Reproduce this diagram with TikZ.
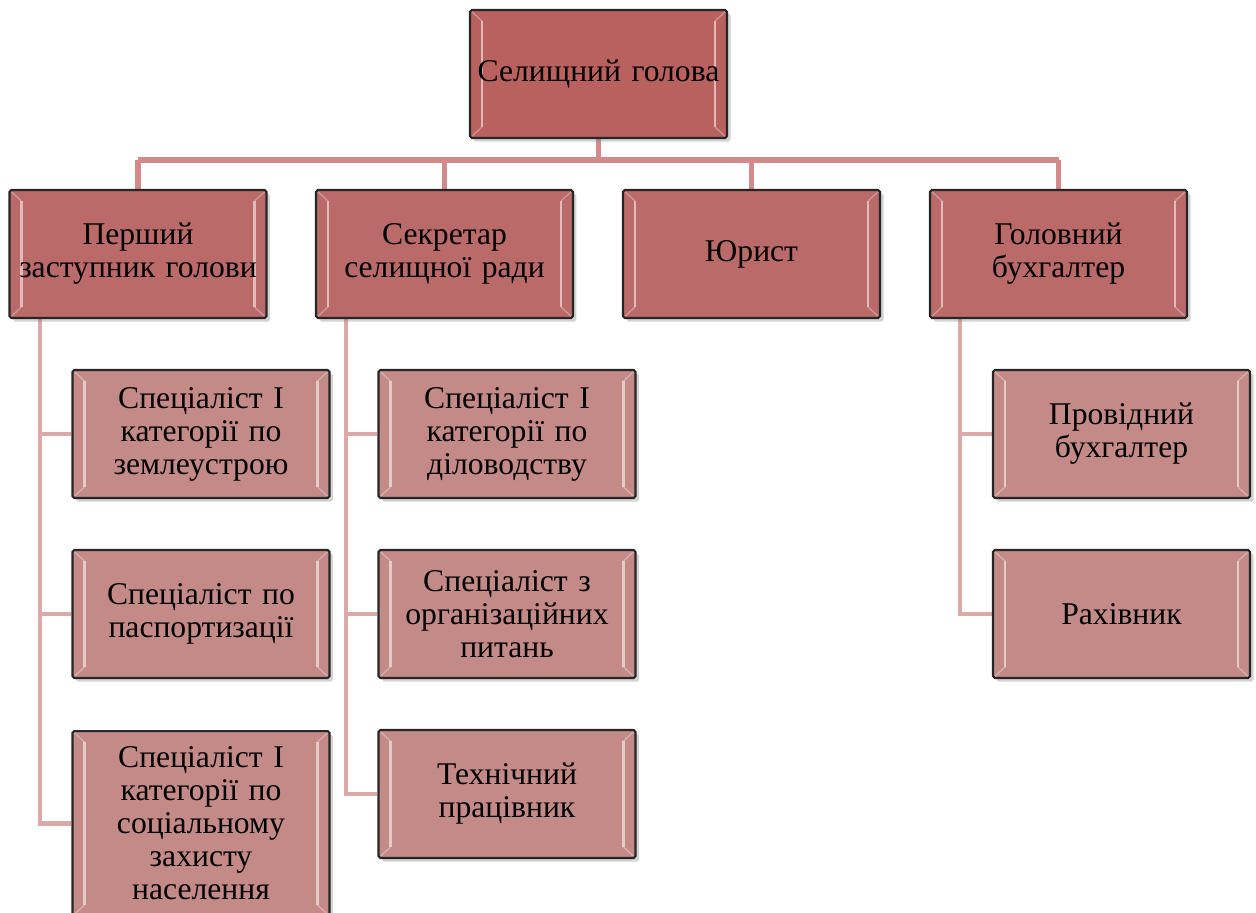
\documentclass[tikz,border=0pt]{standalone}
\usepackage{fontspec}
\setmainfont{Liberation Serif}
\usetikzlibrary{shadows,backgrounds}

\definecolor{boxtop}{RGB}{185,97,95}
\definecolor{boxmid}{RGB}{186,106,104}
\definecolor{boxlow}{RGB}{196,138,136}
\definecolor{linktop}{RGB}{212,138,138}
\definecolor{linklow}{RGB}{220,168,168}

\tikzset{
  unit/.style={draw=black!85,line width=1.2pt,rounded corners=1pt,minimum width=5.14cm,minimum height=2.56cm,
    text width=5cm,align=center,inner sep=0pt,
    font=\fontsize{18}{18.8}\selectfont,
    drop shadow={opacity=0.35,shadow xshift=2pt,shadow yshift=-2pt},
    path picture={
      \draw[white,opacity=0.55,line width=1.6pt] ([shift={(0.24cm,-0.22cm)}]path picture bounding box.north west) -- ([shift={(0.24cm,0.22cm)}]path picture bounding box.south west);
      \draw[white,opacity=0.55,line width=1.6pt] ([shift={(-0.24cm,-0.22cm)}]path picture bounding box.north east) -- ([shift={(-0.24cm,0.22cm)}]path picture bounding box.south east);
      \draw[white,opacity=0.3,line width=0.8pt] ([shift={(0.24cm,-0.22cm)}]path picture bounding box.north west) -- (path picture bounding box.north west);
      \draw[white,opacity=0.3,line width=0.8pt] ([shift={(-0.24cm,-0.22cm)}]path picture bounding box.north east) -- (path picture bounding box.north east);
      \draw[white,opacity=0.3,line width=0.8pt] ([shift={(0.24cm,0.22cm)}]path picture bounding box.south west) -- (path picture bounding box.south west);
      \draw[white,opacity=0.3,line width=0.8pt] ([shift={(-0.24cm,0.22cm)}]path picture bounding box.south east) -- (path picture bounding box.south east);
    }},
  head/.style={unit,fill=boxtop},
  deputy/.style={unit,fill=boxmid},
  staff/.style={unit,fill=boxlow},
  link/.style={draw=linktop,line width=3.2pt},
  sublink/.style={draw=linklow,line width=2.8pt}
}

\begin{document}
\begin{tikzpicture}[x=0.02cm,y=-0.02cm]
  \useasboundingbox (0,0) rectangle (1256,912);
  \coordinate (bus) at (598.5,160);
  \coordinate (zastbus) at (40,0);
  \coordinate (sekrbus) at (346,0);
  \coordinate (buhbus) at (960,0);

  \node[head] (golova) at (598.5,74) {Селищний голова};

  \node[deputy] (zast) at (138,254) {Перший\\заступник голови};
  \node[deputy] (sekr) at (444.5,254) {Секретар\\селищної ради};
  \node[deputy] (yur) at (751.5,254) {Юрист};
  \node[deputy] (buh) at (1058.5,254) {Головний\\бухгалтер};

  \node[staff] (zem) at (201,434) {Спеціаліст І\\категорії по\\землеустрою};
  \node[staff] (pasp) at (201,614) {Спеціаліст по\\паспортизації};
  \node[staff,minimum height=3.7cm,anchor=north] (soc) at (201,730) {Спеціаліст І\\категорії по\\соціальному\\захисту\\населення};

  \node[staff] (dil) at (507,434) {Спеціаліст І\\категорії по\\діловодству};
  \node[staff] (org) at (507,614) {Спеціаліст з\\організаційних\\питань};
  \node[staff] (teh) at (507,794) {Технічний\\працівник};

  \node[staff] (prov) at (1121.5,434) {Провідний\\бухгалтер};
  \node[staff] (rah) at (1121.5,614) {Рахівник};

  % links under the boxes
  \begin{scope}[on background layer]
    \draw[link] (golova.south) -- (bus);
    \draw[link] (zast.north |- bus) -- (buh.north |- bus);
    \foreach \n in {zast,sekr,yur,buh}
      \draw[link] (\n.north) -- (\n.north |- bus);
    \foreach \n in {zem,pasp,soc}
      \draw[sublink] (zast.south -| zastbus) |- (\n.west);
    \foreach \n in {dil,org,teh}
      \draw[sublink] (sekr.south -| sekrbus) |- (\n.west);
    \foreach \n in {prov,rah}
      \draw[sublink] (buh.south -| buhbus) |- (\n.west);
  \end{scope}
\end{tikzpicture}
\end{document}
